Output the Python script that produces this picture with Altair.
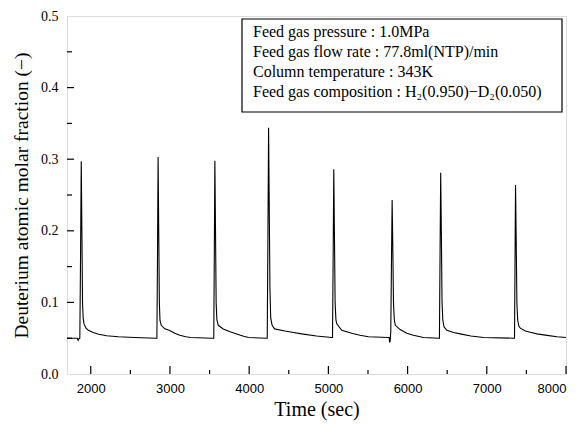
import altair as alt
import pandas as pd

# Measured time series (sec, deuterium atomic molar fraction)
time_s = [
    1700, 1830, 1840, 1848, 1862, 1870, 1880, 1888, 1896, 1904, 1915, 1940, 1970, 2030, 2100, 2200, 2350, 2550, 2820,
    2835, 2843, 2850, 2858, 2866, 2874, 2890, 2935, 2990, 3060, 3125, 3200, 3260, 3540,
    3553, 3560, 3567, 3575, 3583, 3592, 3610, 3672, 3760, 3842, 3920, 3990, 4215,
    4228, 4236, 4245, 4253, 4262, 4272, 4290, 4320, 4452, 4560, 4663, 4850, 5040,
    5052, 5060, 5068, 5076, 5085, 5095, 5106, 5169, 5295, 5400, 5505, 5758, 5768,
    5773, 5780, 5788, 5796, 5805, 5813, 5822, 5832, 5845, 5906, 5990, 6074, 6200, 6395,
    6402, 6410, 6418, 6426, 6435, 6445, 6460, 6496, 6580, 6664, 6800, 6959, 7345,
    7350, 7356, 7363, 7371, 7380, 7390, 7405, 7423, 7486, 7560, 7634, 7760, 7887, 8000,
]
fraction = [
    0.050, 0.050, 0.047, 0.049, 0.050, 0.150, 0.297, 0.200, 0.100, 0.078, 0.070, 0.064, 0.061, 0.058, 0.0555, 0.0535, 0.052, 0.051, 0.050,
    0.050, 0.170, 0.303, 0.200, 0.100, 0.075, 0.068, 0.063, 0.061, 0.057, 0.054, 0.052, 0.051, 0.050,
    0.050, 0.170, 0.298, 0.200, 0.100, 0.076, 0.068, 0.063, 0.059, 0.056, 0.053, 0.051, 0.050,
    0.050, 0.180, 0.344, 0.240, 0.120, 0.078, 0.068, 0.063, 0.060, 0.058, 0.056, 0.053, 0.051,
    0.051, 0.160, 0.286, 0.200, 0.100, 0.076, 0.070, 0.061, 0.057, 0.054, 0.052, 0.051, 0.051,
    0.044, 0.046, 0.060, 0.150, 0.243, 0.180, 0.100, 0.076, 0.068, 0.062, 0.057, 0.054, 0.051, 0.050,
    0.050, 0.170, 0.281, 0.200, 0.100, 0.075, 0.066, 0.061, 0.058, 0.056, 0.053, 0.051, 0.050,
    0.050, 0.150, 0.264, 0.190, 0.100, 0.075, 0.067, 0.064, 0.060, 0.058, 0.056, 0.054, 0.052, 0.051,
]

x_major = [2000, 3000, 4000, 5000, 6000, 7000, 8000]
x_minor = [2500, 3500, 4500, 5500, 6500, 7500]
y_major = [0.1, 0.2, 0.3, 0.4]
y_minor = [0.05, 0.15, 0.25, 0.35, 0.45]

info_lines = [
    "Feed gas pressure : 1.0MPa",
    "Feed gas flow rate : 77.8ml(NTP)/min",
    "Column temperature : 343K",
    "Feed gas composition : H\u2082(0.950)\u2212D\u2082(0.050)",
]

W, H = 499, 358
SERIF = "Liberation Serif"
SANS = "Liberation Sans"

df = pd.DataFrame({"t": time_s, "f": fraction})

xscale = alt.Scale(domain=[1700, 8000], nice=False, zero=False)
yscale = alt.Scale(domain=[0, 0.5], nice=False)

line = alt.Chart(df).mark_line(color="black", strokeWidth=1.1).encode(
    x=alt.X("t:Q", scale=xscale,
            axis=alt.Axis(title="Time (sec)", values=x_major, format="d", ticks=False, domain=False,
                          grid=False, labelFont=SANS, labelFontSize=13, labelColor="black",
                          labelPadding=8, titleFont=SERIF, titleFontSize=20, titleFontWeight="normal",
                          titleColor="black", titlePadding=4)),
    y=alt.Y("f:Q", scale=yscale,
            axis=alt.Axis(title="Deuterium atomic molar fraction (\u2212)", values=[0, 0.1, 0.2, 0.3, 0.4, 0.5],
                          format=".1f", ticks=False, domain=False, grid=False, labelFont=SERIF,
                          labelFontSize=14, labelColor="black", labelPadding=9, titleFont=SERIF,
                          titleFontSize=19.5, titleFontWeight="normal", titleColor="black", titlePadding=9)),
)

def xticks(vals, length):
    return alt.Chart(pd.DataFrame({"t": vals})).mark_rule(color="black", strokeWidth=1.2).encode(
        x=alt.X("t:Q", scale=xscale), y=alt.value(H), y2=alt.value(H - length))

def yticks(vals, length):
    return alt.Chart(pd.DataFrame({"f": vals})).mark_rule(color="black", strokeWidth=1.2).encode(
        y=alt.Y("f:Q", scale=yscale), x=alt.value(0), x2=alt.value(length))

box = alt.Chart(pd.DataFrame({"a": [0]})).mark_rect(fill="white", stroke="black", strokeWidth=1.2).encode(
    x=alt.value(175), x2=alt.value(495), y=alt.value(3), y2=alt.value(96))

text = alt.Chart(pd.DataFrame({"a": [0]})).mark_text(
    align="left", baseline="top", font=SERIF, fontSize=16, lineHeight=20, color="black"
).encode(x=alt.value(186), y=alt.value(8), text=alt.value(info_lines))

chart = alt.layer(
    line, xticks(x_major, 8), xticks(x_minor, 4), yticks(y_major, 7), yticks(y_minor, 5), box, text
).properties(
    width=W, height=H, autosize="none",
    padding={"left": 67, "top": 16, "right": 16, "bottom": 51},
).configure_view(stroke="black", strokeWidth=1.5).configure(background="white")

chart.save("out.html", embed_options={"renderer": "svg", "actions": False})
